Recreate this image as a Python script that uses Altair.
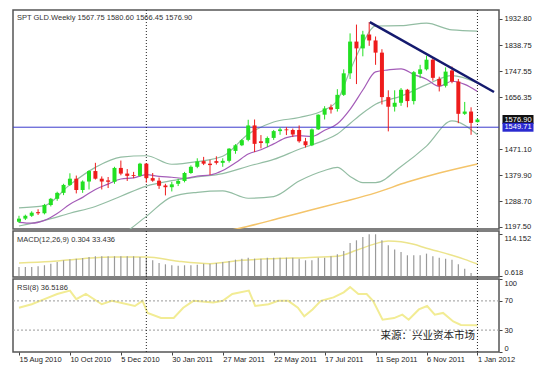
import altair as alt
import pandas as pd

# ---------------- data ----------------
weeks = list(range(73))
opens = [1216, 1227, 1237, 1250, 1246, 1275, 1297, 1318, 1346, 1368, 1328, 1358, 1395, 1368, 1362, 1357,
         1406, 1386, 1381, 1378, 1421, 1370, 1361, 1344, 1338, 1350, 1360, 1388, 1410, 1430, 1421, 1430,
         1424, 1431, 1466, 1486, 1505, 1556, 1500, 1493, 1512, 1536, 1542, 1540, 1540, 1500, 1486, 1542,
         1594, 1620, 1614, 1664, 1740, 1852, 1828, 1877, 1856, 1813, 1656, 1622, 1636, 1682, 1642, 1738,
         1754, 1788, 1720, 1696, 1750, 1711, 1597, 1605, 1567.75]
highs = [1237, 1241, 1253, 1260, 1279, 1300, 1322, 1350, 1387, 1379, 1362, 1398, 1424, 1376, 1374, 1410,
         1432, 1402, 1392, 1424, 1423, 1388, 1372, 1350, 1357, 1368, 1392, 1415, 1440, 1445, 1435, 1447,
         1440, 1476, 1490, 1508, 1576, 1577, 1522, 1517, 1540, 1549, 1550, 1545, 1556, 1512, 1545, 1595,
         1624, 1630, 1684, 1754, 1881, 1912, 1890, 1921, 1870, 1825, 1680, 1680, 1688, 1685, 1748, 1770,
         1802, 1796, 1728, 1761, 1764, 1720, 1639, 1620, 1580.60]
lows = [1212, 1222, 1233, 1240, 1242, 1270, 1290, 1310, 1342, 1316, 1318, 1330, 1365, 1330, 1335, 1350,
        1380, 1360, 1370, 1375, 1354, 1357, 1332, 1309, 1323, 1342, 1355, 1385, 1405, 1416, 1381, 1418,
        1410, 1425, 1456, 1483, 1500, 1462, 1475, 1480, 1505, 1523, 1522, 1515, 1495, 1478, 1483, 1540,
        1577, 1598, 1605, 1660, 1720, 1702, 1800, 1837, 1770, 1630, 1535, 1605, 1625, 1620, 1630, 1723,
        1750, 1714, 1676, 1690, 1705, 1564, 1593, 1523, 1566.45]
closes = [1227, 1237, 1248, 1246, 1275, 1297, 1318, 1346, 1368, 1328, 1358, 1395, 1368, 1358, 1357, 1406,
          1386, 1378, 1378, 1421, 1370, 1361, 1343, 1338, 1348, 1360, 1388, 1410, 1429, 1421, 1416, 1424,
          1431, 1474, 1486, 1504, 1556, 1491, 1494, 1512, 1536, 1542, 1539, 1524, 1500, 1486, 1542, 1594,
          1616, 1612, 1664, 1740, 1852, 1828, 1877, 1856, 1813, 1656, 1622, 1636, 1682, 1642, 1744, 1754,
          1788, 1724, 1696, 1746, 1711, 1597, 1605, 1565, 1576.90]

# indicator lines (read at sample weeks)
band_weeks = [0, 4, 8, 12, 16, 20, 24, 28, 32, 36, 40, 44, 48, 50, 52, 54, 56, 60, 64, 68, 72]
upper_band = [1265, 1273, 1347, 1408, 1444, 1449, 1419, 1428, 1447, 1525, 1568, 1584, 1611, 1644, 1750,
              1847, 1907, 1908, 1917, 1893, 1889]
middle_band = [1201, 1221, 1246, 1270, 1306, 1342, 1361, 1374, 1386, 1412, 1436, 1472, 1504, 1526, 1563,
               1600, 1631, 1659, 1700, 1732, 1706]
lower_band = [1138, 1169, 1144, 1133, 1168, 1235, 1304, 1320, 1325, 1299, 1305, 1360, 1397, 1408, 1376,
              1354, 1354, 1411, 1483, 1572, 1523]
ma_weeks = [0, 2, 4, 6, 8, 10, 12, 14, 16, 18, 20, 22, 24, 26, 28, 30, 32, 34, 36, 38, 40, 42, 44, 46,
            48, 50, 52, 54, 56, 58, 60, 62, 64, 66, 68, 70, 72]
ma_purple = [1214, 1211, 1221, 1245, 1278, 1302, 1330, 1349, 1367, 1371, 1382, 1376, 1373, 1369, 1377,
             1381, 1397, 1424, 1455, 1470, 1491, 1513, 1520, 1517, 1539, 1562, 1613, 1681, 1745, 1752,
             1756, 1736, 1719, 1694, 1712, 1701, 1676]
long_weeks = [33, 36, 41, 46, 51, 56, 61, 66, 72]
ma_long = [1185, 1200, 1229, 1258, 1287, 1318, 1356, 1388, 1420]

trend_x = [55.1, 74.6]
trend_y = [1921, 1674]
hline_price = [1549.71]
year_marks = [20, 72]

price_ticks = [1197.50, 1288.70, 1379.90, 1471.10, 1656.35, 1747.55, 1838.75, 1932.80]
tag_prices = [1576.90, 1549.71]
tag_labels = ["1576.90", "1549.71"]
tag_colors = ["#111111", "#2a2ad0"]

macd_main = [25.4, 25.4, 25.4, 27.2, 29.9, 34.4, 39.0, 43.5, 46.2, 48.0, 49.8, 52.5, 54.4, 54.4, 54.4,
             54.4, 54.4, 54.4, 54.4, 52.5, 49.8, 43.5, 36.2, 32.6, 29.9, 29.0, 29.9, 29.9, 31.7, 34.4,
             34.4, 36.2, 39.0, 41.7, 45.3, 48.0, 50.7, 48.0, 48.0, 50.7, 50.7, 50.7, 50.7, 50.7, 48.0,
             43.5, 43.5, 50.7, 50.7, 54.4, 59.8, 68.9, 90.6, 97.8, 106.9, 114.2, 114.2, 97.8, 84.3, 72.5,
             66.1, 57.1, 57.1, 57.1, 61.6, 54.4, 50.7, 48.0, 45.3, 32.6, 20.8, 9.1, 0.304]
signal_weeks = [0, 5, 10, 15, 20, 25, 30, 35, 40, 45, 50, 53, 56, 58, 60, 62, 64, 66, 68, 70, 72]
macd_signal = [36.0, 40.0, 48.0, 52.5, 52.5, 40.8, 34.4, 43.5, 48.0, 50.7, 54.4, 70.7, 88.8, 96.0, 94.0,
               87.0, 76.0, 67.0, 57.0, 46.0, 33.4]
macd_ticks = [114.152, 0.304]

rsi_weeks = [0, 2, 4, 6, 8, 9, 10.5, 13, 14.6, 18.2, 19.4, 20.2, 22.3, 24.3, 25.8, 27.4, 30.5, 32, 33.5,
             36.1, 37.1, 39.2, 40.7, 42.3, 43.8, 44.8, 46.1, 47.4, 49.4, 51, 52, 53.3, 54.6, 55.6, 57.1,
             58.9, 60.2, 61.2, 62.8, 64.1, 65.3, 66.6, 68.2, 69.4, 72]
rsi_vals = [60.6, 65.4, 72.4, 79.5, 84.1, 72.4, 79.5, 65.4, 70.1, 63.0, 70.1, 53.5, 46.5, 46.5, 60.6,
            70.1, 67.7, 70.1, 79.5, 84.1, 63.0, 65.4, 70.1, 70.1, 60.6, 48.9, 58.3, 70.1, 74.8, 81.8,
            88.9, 79.5, 79.5, 70.1, 44.2, 46.5, 51.2, 44.2, 58.3, 63.0, 51.2, 53.5, 41.8, 37.1, 36.5]
rsi_levels = [30, 70]
rsi_ticks = [0, 30, 70, 100]

date_ticks = [0, 8, 16, 24, 32, 40, 48, 56, 64, 72]
date_labels = ["15 Aug 2010", "10 Oct 2010", "5 Dec 2010", "30 Jan 2011", "27 Mar 2011",
               "22 May 2011", "17 Jul 2011", "11 Sep 2011", "6 Nov 2011", "1 Jan 2012"]

# ---------------- frames ----------------
W = 486
XDOM = [-0.154, 74.6]
FONT = "Liberation Sans"
xs = alt.Scale(domain=XDOM, nice=False, zero=False)

candles = pd.DataFrame({"w": weeks, "open": opens, "high": highs, "low": lows, "close": closes})
bands = pd.DataFrame({"w": band_weeks, "upper": upper_band, "middle": middle_band, "lower": lower_band})
purple = pd.DataFrame({"w": ma_weeks, "v": ma_purple})
longma = pd.DataFrame({"w": long_weeks, "v": ma_long})
trend = pd.DataFrame({"w": trend_x, "p": trend_y})
hl = pd.DataFrame({"p": hline_price})
ym = pd.DataFrame({"w": year_marks})
tags = pd.DataFrame({"p": tag_prices, "t": tag_labels, "c": tag_colors})
macd = pd.DataFrame({"w": weeks, "m": macd_main})
sig = pd.DataFrame({"w": signal_weeks, "s": macd_signal})
rsi = pd.DataFrame({"w": rsi_weeks, "r": rsi_vals})
rl = pd.DataFrame({"r": rsi_levels})

label_js = "[" + ",".join("'%s'" % s for s in date_labels) + "]"
x_axis_bottom = alt.Axis(values=date_ticks, tickSize=3, labelAlign="left", labelPadding=0,
                         labelExpr=label_js + "[round(datum.value / 8)]", title=None,
                         labelFlush=False, labelOverlap=False)


def XN(field="w:Q"):
    return alt.X(field, scale=xs, axis=None)


def XB(field="w:Q"):
    return alt.X(field, scale=xs, axis=x_axis_bottom)


ys_main = alt.Scale(domain=[1190.4, 1963.5], nice=False, zero=False)
main_axis = alt.Axis(orient="right", values=price_ticks, format=".2f", tickSize=3, labelPadding=2, title=None)


def YM(field):
    return alt.Y(field, scale=ys_main, axis=main_axis)


dircol = alt.condition("datum.close >= datum.open", alt.value("#22e022"), alt.value("#ee1c1c"))


def band_line(field):
    return alt.Chart(bands).mark_line(color="#93bda3", strokeWidth=1.2, clip=True,
                                      interpolate="monotone").encode(x=XN(), y=YM(f"{field}:Q"))


wicks = alt.Chart(candles).mark_rule(strokeWidth=1).encode(x=XN(), y=YM("low:Q"), y2="high:Q", color=dircol)
bodies = alt.Chart(candles).mark_bar(size=4).encode(x=XN(), y=YM("open:Q"), y2="close:Q", color=dircol)
purple_line = alt.Chart(purple).mark_line(color="#a45cb8", strokeWidth=1.2, interpolate="monotone").encode(
    x=XN(), y=YM("v:Q"))
long_line = alt.Chart(longma).mark_line(color="#f4c46a", strokeWidth=1.5, clip=True,
                                        interpolate="monotone").encode(x=XN(), y=YM("v:Q"))
trend_line = alt.Chart(trend).mark_line(color="#141a6e", strokeWidth=2.5, clip=True).encode(x=XN(), y=YM("p:Q"))
hrule = alt.Chart(hl).mark_rule(color="#3a3acc", strokeWidth=1).encode(y=YM("p:Q"))


def vrule(xenc):
    return alt.Chart(ym).mark_rule(color="#222", strokeWidth=1, strokeDash=[1, 2]).encode(x=xenc)


tag_box = alt.Chart(tags).mark_tick(orient="horizontal", size=31, thickness=9, opacity=1).encode(
    x=alt.value(W + 19), y=YM("p:Q"), color=alt.Color("c:N", scale=None))
tag_txt = alt.Chart(tags).mark_text(color="white", font=FONT, fontSize=7.5, align="center",
                                    baseline="middle").encode(x=alt.value(W + 19), y=YM("p:Q"), text="t:N")


def panel_text(txt, x, y, size=7.5, align="left", font=FONT, color="#333"):
    return alt.Chart(pd.DataFrame({"t": [txt]})).mark_text(
        align=align, baseline="middle", font=font, fontSize=size, color=color).encode(
        x=alt.value(x), y=alt.value(y), text="t:N")


main = alt.layer(
    band_line("upper"), band_line("middle"), band_line("lower"), long_line, purple_line,
    hrule, vrule(XN()), wicks, bodies, trend_line, tag_box, tag_txt,
    panel_text("SPT  GLD.Weekly  1567.75 1580.60 1566.45 1576.90", 4, 8)
).properties(width=W, height=219)

# ---------------- MACD ----------------
ys_macd = alt.Scale(domain=[-1.9, 123.1], nice=False, zero=False)
macd_axis = alt.Axis(orient="right", values=macd_ticks, tickSize=3, labelPadding=2, title=None,
                     labelExpr="datum.value > 50 ? '114.152' : '0.618'",
                     labelBaseline={"condition": {"test": "datum.value > 50", "value": "top"},
                                    "value": "bottom"})


def YMa(field):
    return alt.Y(field, scale=ys_macd, axis=macd_axis)


macd_bars = alt.Chart(macd).mark_bar(size=1.2, color="#9a9a9a").encode(x=XN(), y=YMa("m:Q"), y2=alt.datum(0))
macd_sig = alt.Chart(sig).mark_line(color="#ece48c", strokeWidth=1.5, interpolate="monotone").encode(
    x=XN(), y=YMa("s:Q"))
macd_panel = alt.layer(
    macd_sig, macd_bars, vrule(XN()), panel_text("MACD(12,26,9) 0.304 33.436", 4, 9)
).properties(width=W, height=46)

# ---------------- RSI ----------------
ys_rsi = alt.Scale(domain=[0, 100], nice=False, zero=False)
rsi_axis = alt.Axis(orient="right", values=rsi_ticks, tickSize=3, labelPadding=2, title=None,
                    labelBaseline={"condition": [{"test": "datum.value >= 100", "value": "top"},
                                                 {"test": "datum.value <= 0", "value": "bottom"}],
                                   "value": "middle"})


def YR(field):
    return alt.Y(field, scale=ys_rsi, axis=rsi_axis)


rsi_line = alt.Chart(rsi).mark_line(color="#f2ec94", strokeWidth=2).encode(x=XB(), y=YR("r:Q"))
rsi_grid = alt.Chart(rl).mark_rule(color="#9a9a9a", strokeWidth=1, strokeDash=[2, 2]).encode(y=YR("r:Q"))
rsi_panel = alt.layer(
    rsi_line, rsi_grid, vrule(XB()),
    panel_text("RSI(8) 36.5186", 4, 9),
    panel_text("来源：兴业资本市场", 462, 57, size=10.5, align="right", font="Noto Sans CJK SC", color="#222")
).properties(width=W, height=73)

chart = alt.vconcat(main, macd_panel, rsi_panel, spacing=2, bounds="flush").resolve_scale(
    x="shared", y="independent", color="independent"
).properties(
    padding={"left": 3, "top": 0, "right": 2, "bottom": 2}
).configure_view(
    stroke="#555", strokeWidth=1.5
).configure_axis(
    labelFont=FONT, labelFontSize=7.5, labelColor="#222", tickColor="#444", domain=False, grid=False
)

chart.save("out.html", embed_options={"renderer": "svg", "actions": False})
